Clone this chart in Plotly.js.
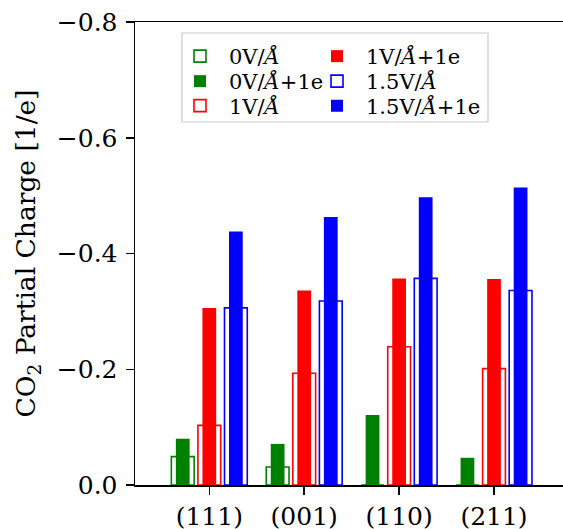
<!DOCTYPE html>
<html>
<head>
<meta charset="utf-8">
<script src="https://cdn.plot.ly/plotly-3.0.1.min.js"></script>
<style>html,body{margin:0;padding:0;background:#fff;}#chart{width:563px;height:529px;}</style>
</head>
<body>
<div id="chart"></div>
<script>
// ---- data ----
const categories = ['(111)', '(001)', '(110)', '(211)'];
const seriesNames = ['0V/<i>Å</i>', '0V/<i>Å</i>+1e', '1V/<i>Å</i>', '1V/<i>Å</i>+1e', '1.5V/<i>Å</i>', '1.5V/<i>Å</i>+1e'];
const v0V    = [-0.049, -0.031,  0.000,  0.000];
const v0V1e  = [-0.080, -0.071, -0.121, -0.047];
const v1V    = [-0.103, -0.193, -0.239, -0.201];
const v1V1e  = [-0.306, -0.336, -0.357, -0.356];
const v15V   = [-0.306, -0.318, -0.357, -0.336];
const v15V1e = [-0.438, -0.463, -0.497, -0.514];
const yTickVals = [0, -0.2, -0.4, -0.6, -0.8];
const yTickText = ['0.0', '\u22120.2', '\u22120.4', '\u22120.6', '\u22120.8'];

// ---- layout helpers ----
const W = 563, H = 529;
const M = {l: 135, r: 0, t: 22, b: 44};
const PW = W - M.l - M.r, PH = H - M.t - M.b;
const px2x = p => (p - M.l) / PW;
const px2y = p => (H - M.b - p) / PH;
const FONT = 'DejaVu Serif, Liberation Serif, serif';

const colors = ['green', 'green', 'red', 'red', 'blue', 'blue'];
const values = [v0V, v0V1e, v1V, v1V1e, v15V, v15V1e];
const centers = [-0.28, -0.28, 0, 0, 0.28, 0.28];
const OPEN_W = 0.24, FILL_W = 0.145;

const traces = values.map((vals, i) => {
  const open = (i % 2 === 0);
  const w = open ? OPEN_W : FILL_W;
  return {
    type: 'bar',
    x: categories,
    y: vals,
    name: seriesNames[i],
    width: w,
    offset: centers[i] - w / 2,
    marker: open
      ? {color: 'rgba(255,255,255,0)', line: {color: colors[i], width: 1.6}}
      : {color: colors[i], line: {width: 0}},
    legend: i === 0 ? 'legend' : 'legend' + (i + 1),
    hoverinfo: 'x+y+name'
  };
});

// legend item positions (legend left x, row centre y) in pixels
const ITEMW = 48;
const legCols = [171, 308];
const legRows = [56.5, 81.5, 106];
const legendCfg = {};
for (let i = 0; i < 6; i++) {
  const col = i < 3 ? 0 : 1, row = i % 3;
  legendCfg[i === 0 ? 'legend' : 'legend' + (i + 1)] = {
    x: px2x(legCols[col]), y: px2y(legRows[row]),
    xref: 'paper', yref: 'paper', xanchor: 'left', yanchor: 'middle',
    bgcolor: 'rgba(0,0,0,0)', borderwidth: 0, itemwidth: ITEMW,
    font: {family: FONT, size: 21, color: '#000'}
  };
}

const layout = Object.assign({
  width: W, height: H,
  margin: M,
  paper_bgcolor: '#fff', plot_bgcolor: '#fff',
  barmode: 'overlay',
  showlegend: true,
  font: {family: FONT, size: 25, color: '#000'},
  xaxis: {
    type: 'category',
    range: [-0.783, 3.727],
    showline: true, linecolor: '#000', linewidth: 1.5, mirror: true,
    ticks: 'outside', ticklen: 8, tickwidth: 1.5, tickcolor: '#000',
    showgrid: false, zeroline: false,
    tickfont: {family: FONT, size: 25, color: '#000'}
  },
  yaxis: {
    range: [0, -0.8],
    tickmode: 'array', tickvals: yTickVals, ticktext: yTickText,
    showline: true, linecolor: '#000', linewidth: 1.5, mirror: false,
    ticks: 'outside', ticklen: 8, tickwidth: 1.5, tickcolor: '#000',
    ticklabelstandoff: 3,
    showgrid: false, zeroline: false,
    tickfont: {family: FONT, size: 25, color: '#000'},
    title: {text: 'CO<sub>2</sub> Partial Charge [1/e]', font: {family: FONT, size: 26.5, color: '#000'}, standoff: 13}
  },
  shapes: [{
    type: 'rect', xref: 'paper', yref: 'paper',
    x0: px2x(182), x1: px2x(488), y0: px2y(122), y1: px2y(33),
    line: {color: '#cccccc', width: 1.2}, fillcolor: 'rgba(255,255,255,0.8)', layer: 'above'
  }]
}, legendCfg);

Plotly.newPlot('chart', traces, layout, {displayModeBar: false, staticPlot: true});
</script>
</body>
</html>
